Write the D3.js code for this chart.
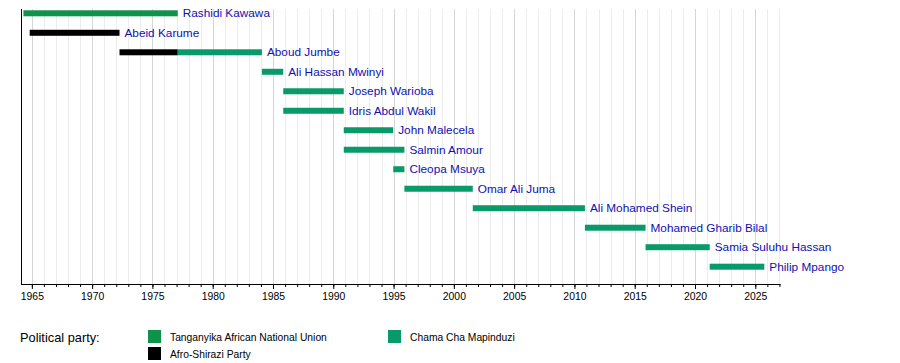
<!DOCTYPE html>
<html>
<head>
<meta charset="utf-8">
<script src="https://cdn.jsdelivr.net/npm/d3@7"></script>
<style>
  body { margin: 0; background: #fff; }
  svg { display: block; font-family: "Liberation Sans", Arial, sans-serif; }
</style>
</head>
<body>
<div id="chart"></div>
<script>
// rows, top to bottom
const names = ["Rashidi Kawawa", "Abeid Karume", "Aboud Jumbe", "Ali Hassan Mwinyi",
  "Joseph Warioba", "Idris Abdul Wakil", "John Malecela", "Salmin Amour",
  "Cleopa Msuya", "Omar Ali Juma", "Ali Mohamed Shein", "Mohamed Gharib Bilal",
  "Samia Suluhu Hassan", "Philip Mpango"];

// terms (decimal years)
const termName  = ["Rashidi Kawawa", "Abeid Karume", "Aboud Jumbe", "Aboud Jumbe", "Ali Hassan Mwinyi",
  "Joseph Warioba", "Idris Abdul Wakil", "John Malecela", "Salmin Amour", "Cleopa Msuya",
  "Omar Ali Juma", "Ali Mohamed Shein", "Mohamed Gharib Bilal", "Samia Suluhu Hassan", "Philip Mpango"];
const termStart = [1964.3, 1964.82, 1972.27, 1977.1, 1984.08, 1985.85, 1985.85, 1990.87, 1990.87,
  1994.97, 1995.9, 2001.57, 2010.87, 2015.9, 2021.22];
const termEnd   = [1977.1, 1972.27, 1977.1, 1984.08, 1985.85, 1990.87, 1990.87, 1994.97, 1995.9,
  1995.9, 2001.57, 2010.87, 2015.9, 2021.22, 2025.75];
const termParty = ["TANU", "ASP", "ASP", "CCM", "CCM", "CCM", "CCM", "CCM", "CCM",
  "CCM", "CCM", "CCM", "CCM", "CCM", "CCM"];

// parties for colours + legend
const partyKeys   = ["TANU", "ASP", "CCM"];
const partyLabels = ["Tanganyika African National Union", "Afro-Shirazi Party", "Chama Cha Mapinduzi"];
const partyColors = ["#0f924a", "#000000", "#089a68"];

const yearStart = 1964.1, yearEnd = 2027.05;
const majorYears = d3.range(1965, 2026, 5);
const minorYears = d3.range(1965, 2028, 1);

const W = 900, H = 363;
const svg = d3.select("#chart").append("svg").attr("width", W).attr("height", H);

const x = d3.scaleLinear().domain([yearStart, yearEnd]).range([21, 780]);
const y = d3.scalePoint().domain(names).range([13.3, 266.7]);
const color = d3.scaleOrdinal().domain(partyKeys).range(partyColors);

const plotTop = 9, plotBottom = 284;

// grid lines
svg.append("g").selectAll("line").data(minorYears).enter().append("line")
  .attr("x1", d => Math.round(x(d)) + 0.5).attr("x2", d => Math.round(x(d)) + 0.5)
  .attr("y1", plotTop).attr("y2", plotBottom)
  .attr("stroke", d => d % 5 === 0 ? "#d6d6d6" : "#ececec")
  .attr("stroke-width", 1);

// bars
svg.append("g").selectAll("rect").data(termName.map((n, i) => i)).enter().append("rect")
  .attr("x", i => x(termStart[i]))
  .attr("width", i => x(termEnd[i]) - x(termStart[i]))
  .attr("y", i => y(termName[i]) - 3)
  .attr("height", 6)
  .attr("fill", i => color(termParty[i]));

// labels right after the last term end of each person
const lastEnd = {};
termName.forEach((n, i) => { lastEnd[n] = Math.max(lastEnd[n] || 0, termEnd[i]); });
svg.append("g").selectAll("text").data(names).enter().append("text")
  .attr("x", d => x(lastEnd[d]) + 5)
  .attr("y", d => y(d) + 4)
  .attr("font-size", "11.8px")
  .attr("fill", "#1010b0")
  .text(d => d);

// left axis line
svg.append("line")
  .attr("x1", 21.5).attr("x2", 21.5).attr("y1", plotTop).attr("y2", plotBottom)
  .attr("stroke", "#000");

// bottom axis: minor ticks then major ticks with labels
const axisG = svg.append("g").attr("transform", "translate(0," + plotBottom + ")");
axisG.call(d3.axisBottom(x).tickValues(minorYears).tickSize(3).tickFormat(""))
  .call(g => g.select(".domain").attr("d", "M21,0.5H780.5"));
axisG.selectAll(".tick line").attr("stroke", "#000");
const majG = svg.append("g").attr("transform", "translate(0," + plotBottom + ")");
majG.call(d3.axisBottom(x).tickValues(majorYears).tickSize(5).tickFormat(d3.format("d")).tickPadding(4))
  .call(g => g.select(".domain").remove());
majG.selectAll("text").attr("font-size", "10.4px").attr("font-family", "Liberation Sans, Arial, sans-serif").attr("fill", "#000");

// legend
svg.append("text").attr("x", 20).attr("y", 341.5).attr("font-size", "12.8px").attr("fill", "#000")
  .text("Political party:");
const legendPos = [[148, 330], [148, 347], [388, 330]];
const lg = svg.append("g").selectAll("g").data(partyKeys).enter().append("g")
  .attr("transform", (d, i) => "translate(" + legendPos[i][0] + "," + legendPos[i][1] + ")");
lg.append("rect").attr("width", 13).attr("height", 13).attr("fill", d => color(d));
lg.append("text").attr("x", 22).attr("y", 11).attr("font-size", "10.3px").attr("fill", "#000")
  .text((d, i) => partyLabels[i]);
</script>
</body>
</html>
